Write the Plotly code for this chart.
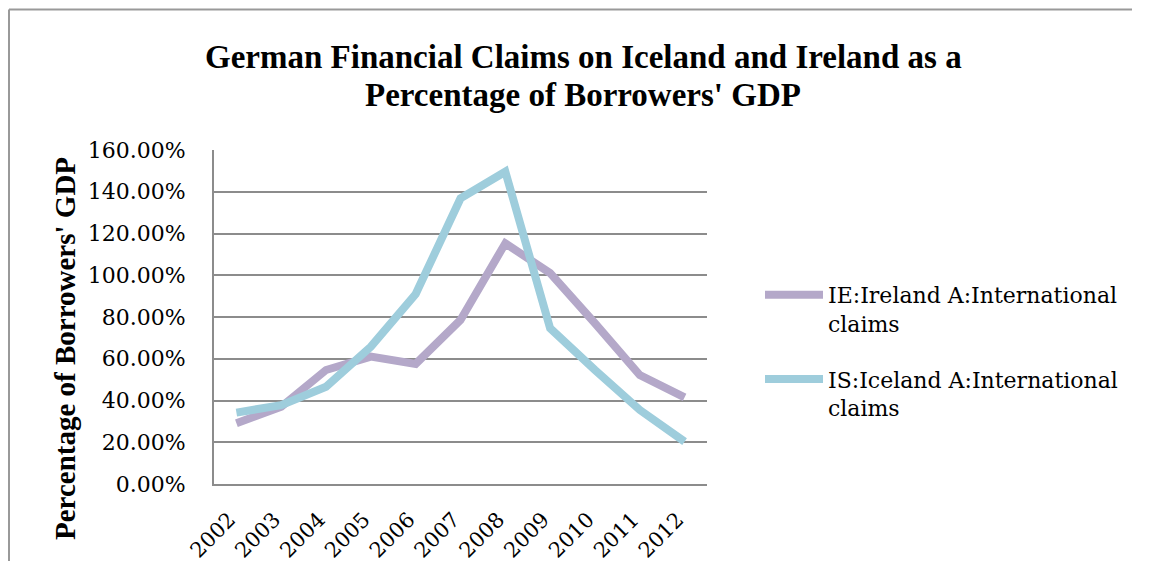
import plotly.graph_objects as go

years = ["2002", "2003", "2004", "2005", "2006", "2007", "2008", "2009", "2010", "2011", "2012"]
ireland = [0.291, 0.37, 0.546, 0.61, 0.575, 0.786, 1.153, 1.01, 0.77, 0.522, 0.415]
iceland = [0.342, 0.378, 0.466, 0.658, 0.91, 1.368, 1.496, 0.746, 0.546, 0.355, 0.203]
series_names = ["IE:Ireland A:International<br>claims", "IS:Iceland A:International<br>claims"]
colors = ["#b4a8c9", "#9ecddc"]
y_ticks = [0, 0.2, 0.4, 0.6, 0.8, 1.0, 1.2, 1.4, 1.6]
title_lines = ["German Financial Claims on Iceland and Ireland as a", "Percentage of Borrowers' GDP"]

# page body has an 8px margin; work in screen pixels and convert
OFF = 8
W, H = 1150 - 2 * OFF - 8, 579 - 2 * OFF - 8
L, R, T, B = 214 - OFF, 707 - OFF, 150 - OFF, 484 - OFF

def px_x(p):
    return (p - OFF - L) / (R - L)

def px_y(p):
    return (B - (p - OFF)) / (B - T)

fig = go.Figure()
for name, vals, col, grp in zip(series_names, [ireland, iceland], colors, ["a", "b"]):
    fig.add_trace(go.Scatter(x=years, y=vals, mode="lines", name=name, legendgroup=grp,
                             line=dict(color=col, width=8, shape="linear")))

annotations = []
for line, ymid in zip(title_lines, [57, 95]):
    annotations.append(dict(text="<b>" + line + "</b>", xref="paper", yref="paper",
                            x=px_x(583), y=px_y(ymid), xanchor="center", yanchor="middle",
                            showarrow=False,
                            font=dict(family="Liberation Serif", size=33, color="black")))
annotations.append(dict(text="<b>Percentage of Borrowers' GDP</b>", textangle=-90, xref="paper", yref="paper",
                        x=px_x(65), y=px_y(349), xanchor="center", yanchor="middle", showarrow=False,
                        font=dict(family="Liberation Serif", size=29, color="black")))

frame = dict(color="#999999", width=2)
right_edge = OFF + W - 2
bottom_edge = OFF + H - 2
fig.update_layout(
    width=W, height=H,
    margin=dict(l=L, r=W - R, t=T, b=H - B, autoexpand=False),
    paper_bgcolor="white", plot_bgcolor="white",
    showlegend=True,
    legend=dict(x=px_x(760), y=px_y(274), xanchor="left", yanchor="top", valign="top",
                font=dict(family="DejaVu Serif", size=22, color="black"),
                tracegroupgap=24, itemwidth=58, bgcolor="rgba(0,0,0,0)"),
    xaxis=dict(type="category", range=[-0.5, 10.5], tickangle=-45, showgrid=False,
               showline=True, linecolor="#8c8c8c", linewidth=2, ticks="",
               tickfont=dict(family="DejaVu Serif", size=21, color="black"),
               ticklabelstandoff=13, ticklabelshift=-7),
    yaxis=dict(range=[0, 1.6], tickvals=y_ticks, tickformat=".2%", showgrid=True,
               gridcolor="#8c8c8c", gridwidth=1.5, showline=True, linecolor="#8c8c8c", linewidth=2,
               zeroline=False, ticks="", ticklabelstandoff=22,
               tickfont=dict(family="DejaVu Serif", size=22, color="black")),
    annotations=annotations,
    shapes=[
        dict(type="line", xref="paper", yref="paper", x0=px_x(9), x1=px_x(right_edge), y0=px_y(9.5), y1=px_y(9.5),
             line=frame, layer="below"),
        dict(type="line", xref="paper", yref="paper", x0=px_x(9), x1=px_x(9), y0=px_y(9.5), y1=px_y(bottom_edge),
             line=frame, layer="below"),
    ],
)

fig.write_html("out.html")
